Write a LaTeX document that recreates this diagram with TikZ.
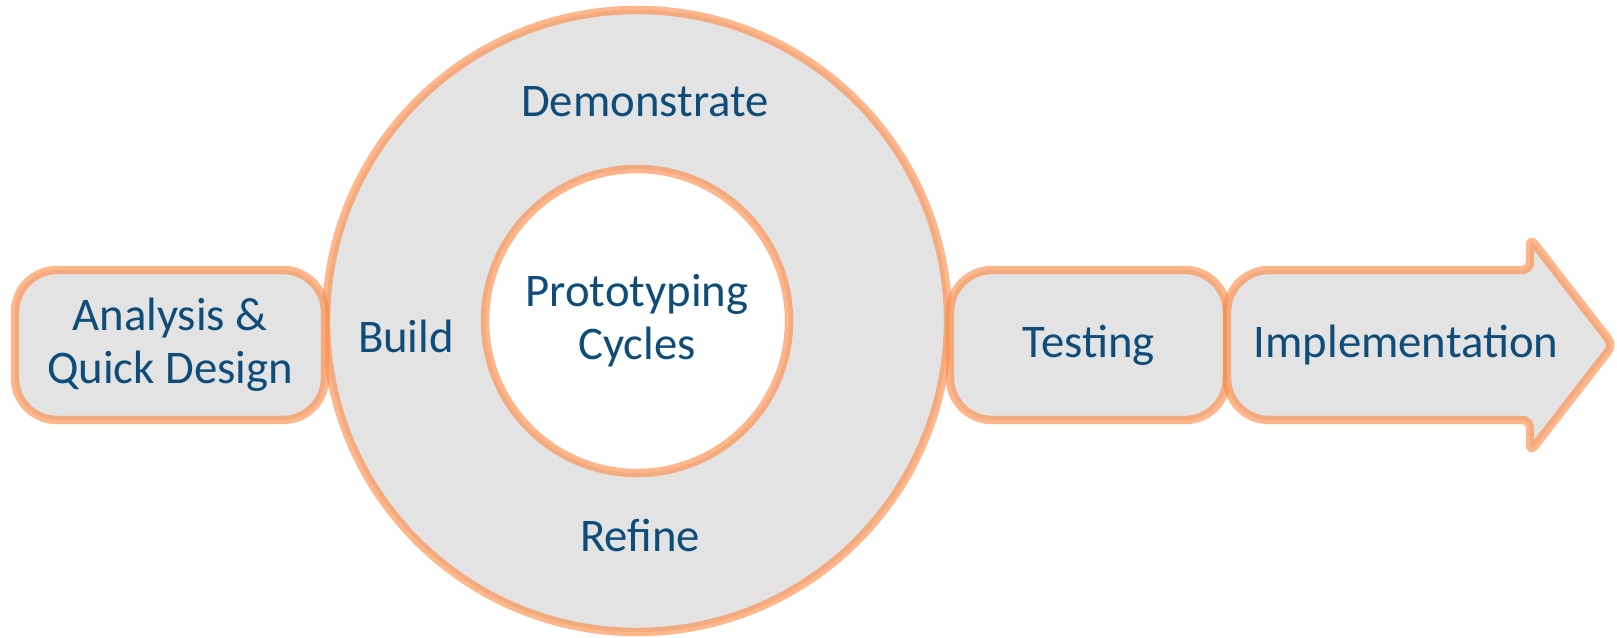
\documentclass[tikz,border=0pt]{standalone}
\usepackage{fontspec}
\setmainfont{Carlito}
\usepackage{tikz}

\definecolor{ringfill}{RGB}{227,227,227}
\definecolor{edgeorange}{RGB}{255,133,60}
\definecolor{textblue}{RGB}{14,76,122}

\begin{document}
\begin{tikzpicture}[
                outline/.style={draw=edgeorange, draw opacity=0.6, line width=2.4pt},
                lbl/.style={font=\fontsize{13.3}{15.1}\selectfont, text=textblue, inner sep=0pt, align=center},
                ring/.style={outline, lbl, circle, fill=ringfill},
                box/.style={outline, lbl, rectangle, rounded corners=4.2mm, fill=ringfill, minimum height=1.5cm}
            ]
                \useasboundingbox (0,0) rectangle (16.17,6.37);

                \node[ring, minimum size=6.22cm] (cycle) at (6.37,3.16) {};
                \node[ring, fill=white, minimum size=3.04cm] (core) at (6.37,3.16) {Prototyping\\Cycles};
                \node[lbl, anchor=base] (demo) at (6.45,5.21) {Demonstrate};
                \node[lbl, anchor=base] (build) at (4.06,2.85) {Build};
                \node[lbl, anchor=base] (refine) at (6.40,0.86) {Refine};

                \node[box, minimum width=3.10cm] (analysis) at (1.70,2.92) {Analysis \&\\Quick Design};
                \node[box, minimum width=2.77cm] (testing) at (10.885,2.92) {Testing};

                \draw[outline, fill=ringfill] (12.27,2.92) [rounded corners=4.2mm] -- (12.27,2.17) [rounded corners=0.8mm] -- (15.30,2.17) -- (15.30,1.85) -- (16.13,2.92) -- (15.30,3.99) -- (15.30,3.67) [rounded corners=4.2mm] -- (12.27,3.67) -- cycle;
                \node[lbl] (impl) at (14.06,2.92) {Implementation};
            \end{tikzpicture}
\end{document}
